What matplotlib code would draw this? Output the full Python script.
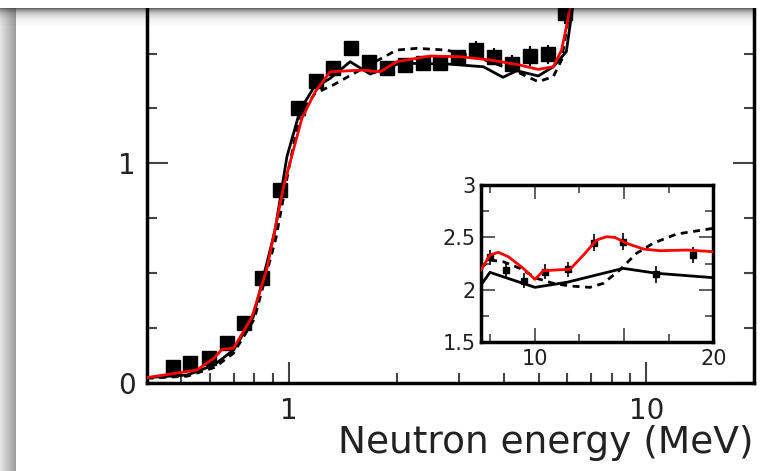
import numpy as np
import matplotlib
matplotlib.use("Agg")
import matplotlib.pyplot as plt
from matplotlib.ticker import FixedLocator, NullFormatter, LogLocator

plt.rcParams['font.family'] = ['DejaVu Sans']

# main panel : data points (MeV, ratio)
e_pts = [0.473, 0.530, 0.596, 0.671, 0.751, 0.842, 0.941, 1.06, 1.187, 1.332,
         1.493, 1.673, 1.878, 2.113, 2.368, 2.647, 2.977, 3.336, 3.746, 4.205,
         4.72, 5.29, 5.91]
y_pts = [0.073, 0.088, 0.111, 0.180, 0.271, 0.476, 0.878, 1.25, 1.376, 1.436,
         1.524, 1.463, 1.433, 1.448, 1.459, 1.456, 1.483, 1.516, 1.486, 1.453,
         1.489, 1.496, 1.684]
y_err = [0.01, 0.01, 0.01, 0.01, 0.012, 0.015, 0.02, 0.025, 0.025, 0.03,
         0.03, 0.03, 0.03, 0.03, 0.03, 0.03, 0.035, 0.04, 0.04, 0.04,
         0.045, 0.045, 0.05]

# main panel : calculations
e_red = [0.40, 0.553, 0.616, 0.65, 0.70, 0.788, 0.868, 0.966, 1.087, 1.184,
         1.304, 1.60, 1.80, 2.0, 2.48, 3.0, 3.65, 4.42, 4.98, 5.49, 5.79,
         5.97, 6.17, 6.5]
y_red = [0.023, 0.058, 0.111, 0.152, 0.157, 0.30, 0.52, 0.893, 1.205, 1.326,
         1.417, 1.425, 1.417, 1.463, 1.489, 1.486, 1.471, 1.448, 1.428, 1.440,
         1.516, 1.62, 1.744, 2.0]

e_blk = [0.40, 0.519, 0.616, 0.70, 0.795, 0.915, 0.987, 1.075, 1.17, 1.304,
         1.483, 1.687, 1.88, 2.04, 2.76, 3.5, 3.97, 4.34, 4.98, 5.49, 5.97,
         6.22, 6.5]
y_blk = [0.023, 0.035, 0.08, 0.149, 0.30, 0.696, 1.03, 1.243, 1.342, 1.387,
         1.463, 1.407, 1.433, 1.456, 1.453, 1.44, 1.392, 1.422, 1.398, 1.44,
         1.509, 1.714, 2.0]

e_dsh = [0.40, 0.52, 0.62, 0.70, 0.80, 0.92, 1.0, 1.075, 1.184, 1.33, 1.6,
         2.0, 2.28, 2.76, 3.42, 4.24, 4.98, 5.49, 5.79, 6.08, 6.4]
y_dsh = [0.02, 0.03, 0.07, 0.135, 0.29, 0.66, 0.98, 1.228, 1.319, 1.357, 1.43,
         1.516, 1.524, 1.516, 1.479, 1.425, 1.372, 1.395, 1.471, 1.684, 2.0]

# inset : data points
e_in = [7.5, 8.38, 9.42, 10.58, 11.85, 13.32, 14.96, 16.78, 18.85]
y_in = [2.31, 2.19, 2.087, 2.173, 2.196, 2.45, 2.459, 2.148, 2.332]
yerr_in = [0.07, 0.07, 0.07, 0.07, 0.07, 0.08, 0.08, 0.08, 0.08]

# inset : calculations
e_in_red = [7.0, 7.5, 7.97, 8.53, 9.37, 10.02, 10.49, 11.24, 11.98, 12.73,
            13.47, 14.03, 14.5, 15.15, 16.08, 17.02, 18.51, 20.0]
y_in_red = [2.19, 2.332, 2.358, 2.316, 2.205, 2.10, 2.183, 2.19, 2.196, 2.332,
            2.475, 2.507, 2.50, 2.444, 2.39, 2.373, 2.38, 2.364]
e_in_blk = [7.0, 7.5, 10.02, 11.8, 14.96, 16.83, 20.0]
y_in_blk = [2.046, 2.167, 2.024, 2.072, 2.205, 2.158, 2.116]
e_in_dsh = [7.0, 7.5, 8.25, 9.18, 10.12, 11.05, 11.98, 13.1, 13.84, 14.77,
            15.7, 16.63, 17.94, 20.0]
y_in_dsh = [2.205, 2.285, 2.268, 2.205, 2.11, 2.062, 2.037, 2.024, 2.062,
            2.19, 2.348, 2.444, 2.532, 2.587]

W, H = 761, 471
fig = plt.figure(figsize=(W / 100, H / 100), dpi=100)

# main axes (top runs off the picture)
ax = fig.add_axes([146.7 / W, 1 - 382.7 / H, (754 - 146.7) / W, 2.0 * 219.4 / H])
ax.plot(e_dsh, y_dsh, color='black', lw=2, ls=(0, (2.5, 2)))
ax.plot(e_blk, y_blk, color='black', lw=2)
ax.errorbar(e_pts, y_pts, yerr=y_err, fmt='s', color='black', ms=9.5,
            elinewidth=1.5, capsize=0, zorder=3)
ax.plot(e_red, y_red, color='red', lw=2, zorder=4)
ax.set_xscale('log')
ax.set_xlim(0.4, 20)
ax.set_ylim(0, 2.0)
ax.xaxis.set_major_locator(FixedLocator([1, 10]))
ax.set_xticklabels(['1', '10'])
ax.xaxis.set_minor_locator(LogLocator(base=10, subs=np.arange(2, 10)))
ax.xaxis.set_minor_formatter(NullFormatter())
ax.yaxis.set_major_locator(FixedLocator([0, 1]))
ax.set_yticklabels(['0', '1'])
ax.yaxis.set_minor_locator(FixedLocator([0.25, 0.5, 0.75, 1.25, 1.5, 1.75]))
ax.tick_params(which='both', direction='in', right=True, top=True, width=1.5,
               color='#444444', labelcolor='#222222')
ax.tick_params(which='major', length=15, labelsize=20)
ax.tick_params(which='minor', length=7)
ax.tick_params(axis='x', which='major', pad=10)
ax.tick_params(axis='y', which='major', pad=8)
for s in ax.spines.values():
    s.set_linewidth(2.5)
ax.set_xlabel('Neutron energy (MeV)', fontsize=27, loc='right', labelpad=0,
              color='#222222')

# inset
ins = fig.add_axes([481 / W, 1 - 342.3 / H, 232.3 / W, 157.3 / H])
ins.plot(e_in_dsh, y_in_dsh, color='black', lw=2, ls=(0, (2.5, 2)))
ins.plot(e_in_blk, y_in_blk, color='black', lw=2)
ins.errorbar(e_in, y_in, yerr=yerr_in, xerr=0.15, fmt='s', color='black',
             ms=4, elinewidth=1.2, capsize=0, zorder=3)
ins.plot(e_in_red, y_in_red, color='red', lw=2, zorder=4)
ins.set_xlim(7, 20)
ins.set_ylim(1.5, 3)
ins.xaxis.set_major_locator(FixedLocator([10, 15, 20]))
ins.set_xticklabels(['10', '', '20'])
ins.xaxis.set_minor_locator(FixedLocator([7.5, 12.5, 17.5]))
ins.yaxis.set_major_locator(FixedLocator([1.5, 2, 2.5, 3]))
ins.set_yticklabels(['1.5', '2', '2.5', '3'])
ins.yaxis.set_minor_locator(FixedLocator([1.75, 2.25, 2.75]))
ins.tick_params(which='both', direction='in', right=True, top=True, width=1.2,
                color='#444444', labelcolor='#222222')
ins.tick_params(which='major', length=10, labelsize=15)
ins.tick_params(which='minor', length=6)
ins.tick_params(axis='x', which='major', pad=5)
ins.tick_params(axis='y', which='major', pad=4)
for s in ins.spines.values():
    s.set_linewidth(2.5)

# screenshot frame: white strip, top shadow, left grey band
ov = np.zeros((H, W, 4))
ov[:8, :, :] = 1.0
rows = np.arange(8, 26)
ov[8:26, :753, 3] = (0.6 * np.exp(-(rows - 8) / 5.0))[:, None]
cols = np.arange(16)
grey = 0.9 - 0.28 * cols / 15.0
ov[8:, :16, 0] = grey
ov[8:, :16, 1] = grey
ov[8:, :16, 2] = grey
ov[8:, :16, 3] = 1.0
ov[8:26, :16, :3] *= (1 - 0.5 * np.exp(-(rows - 8) / 5.0))[:, None, None]
oax = fig.add_axes([0, 0, 1, 1], zorder=10)
oax.imshow(ov, extent=(0, 1, 0, 1), aspect='auto', interpolation='nearest')
oax.axis('off')

fig.savefig('out.png', dpi=100)
